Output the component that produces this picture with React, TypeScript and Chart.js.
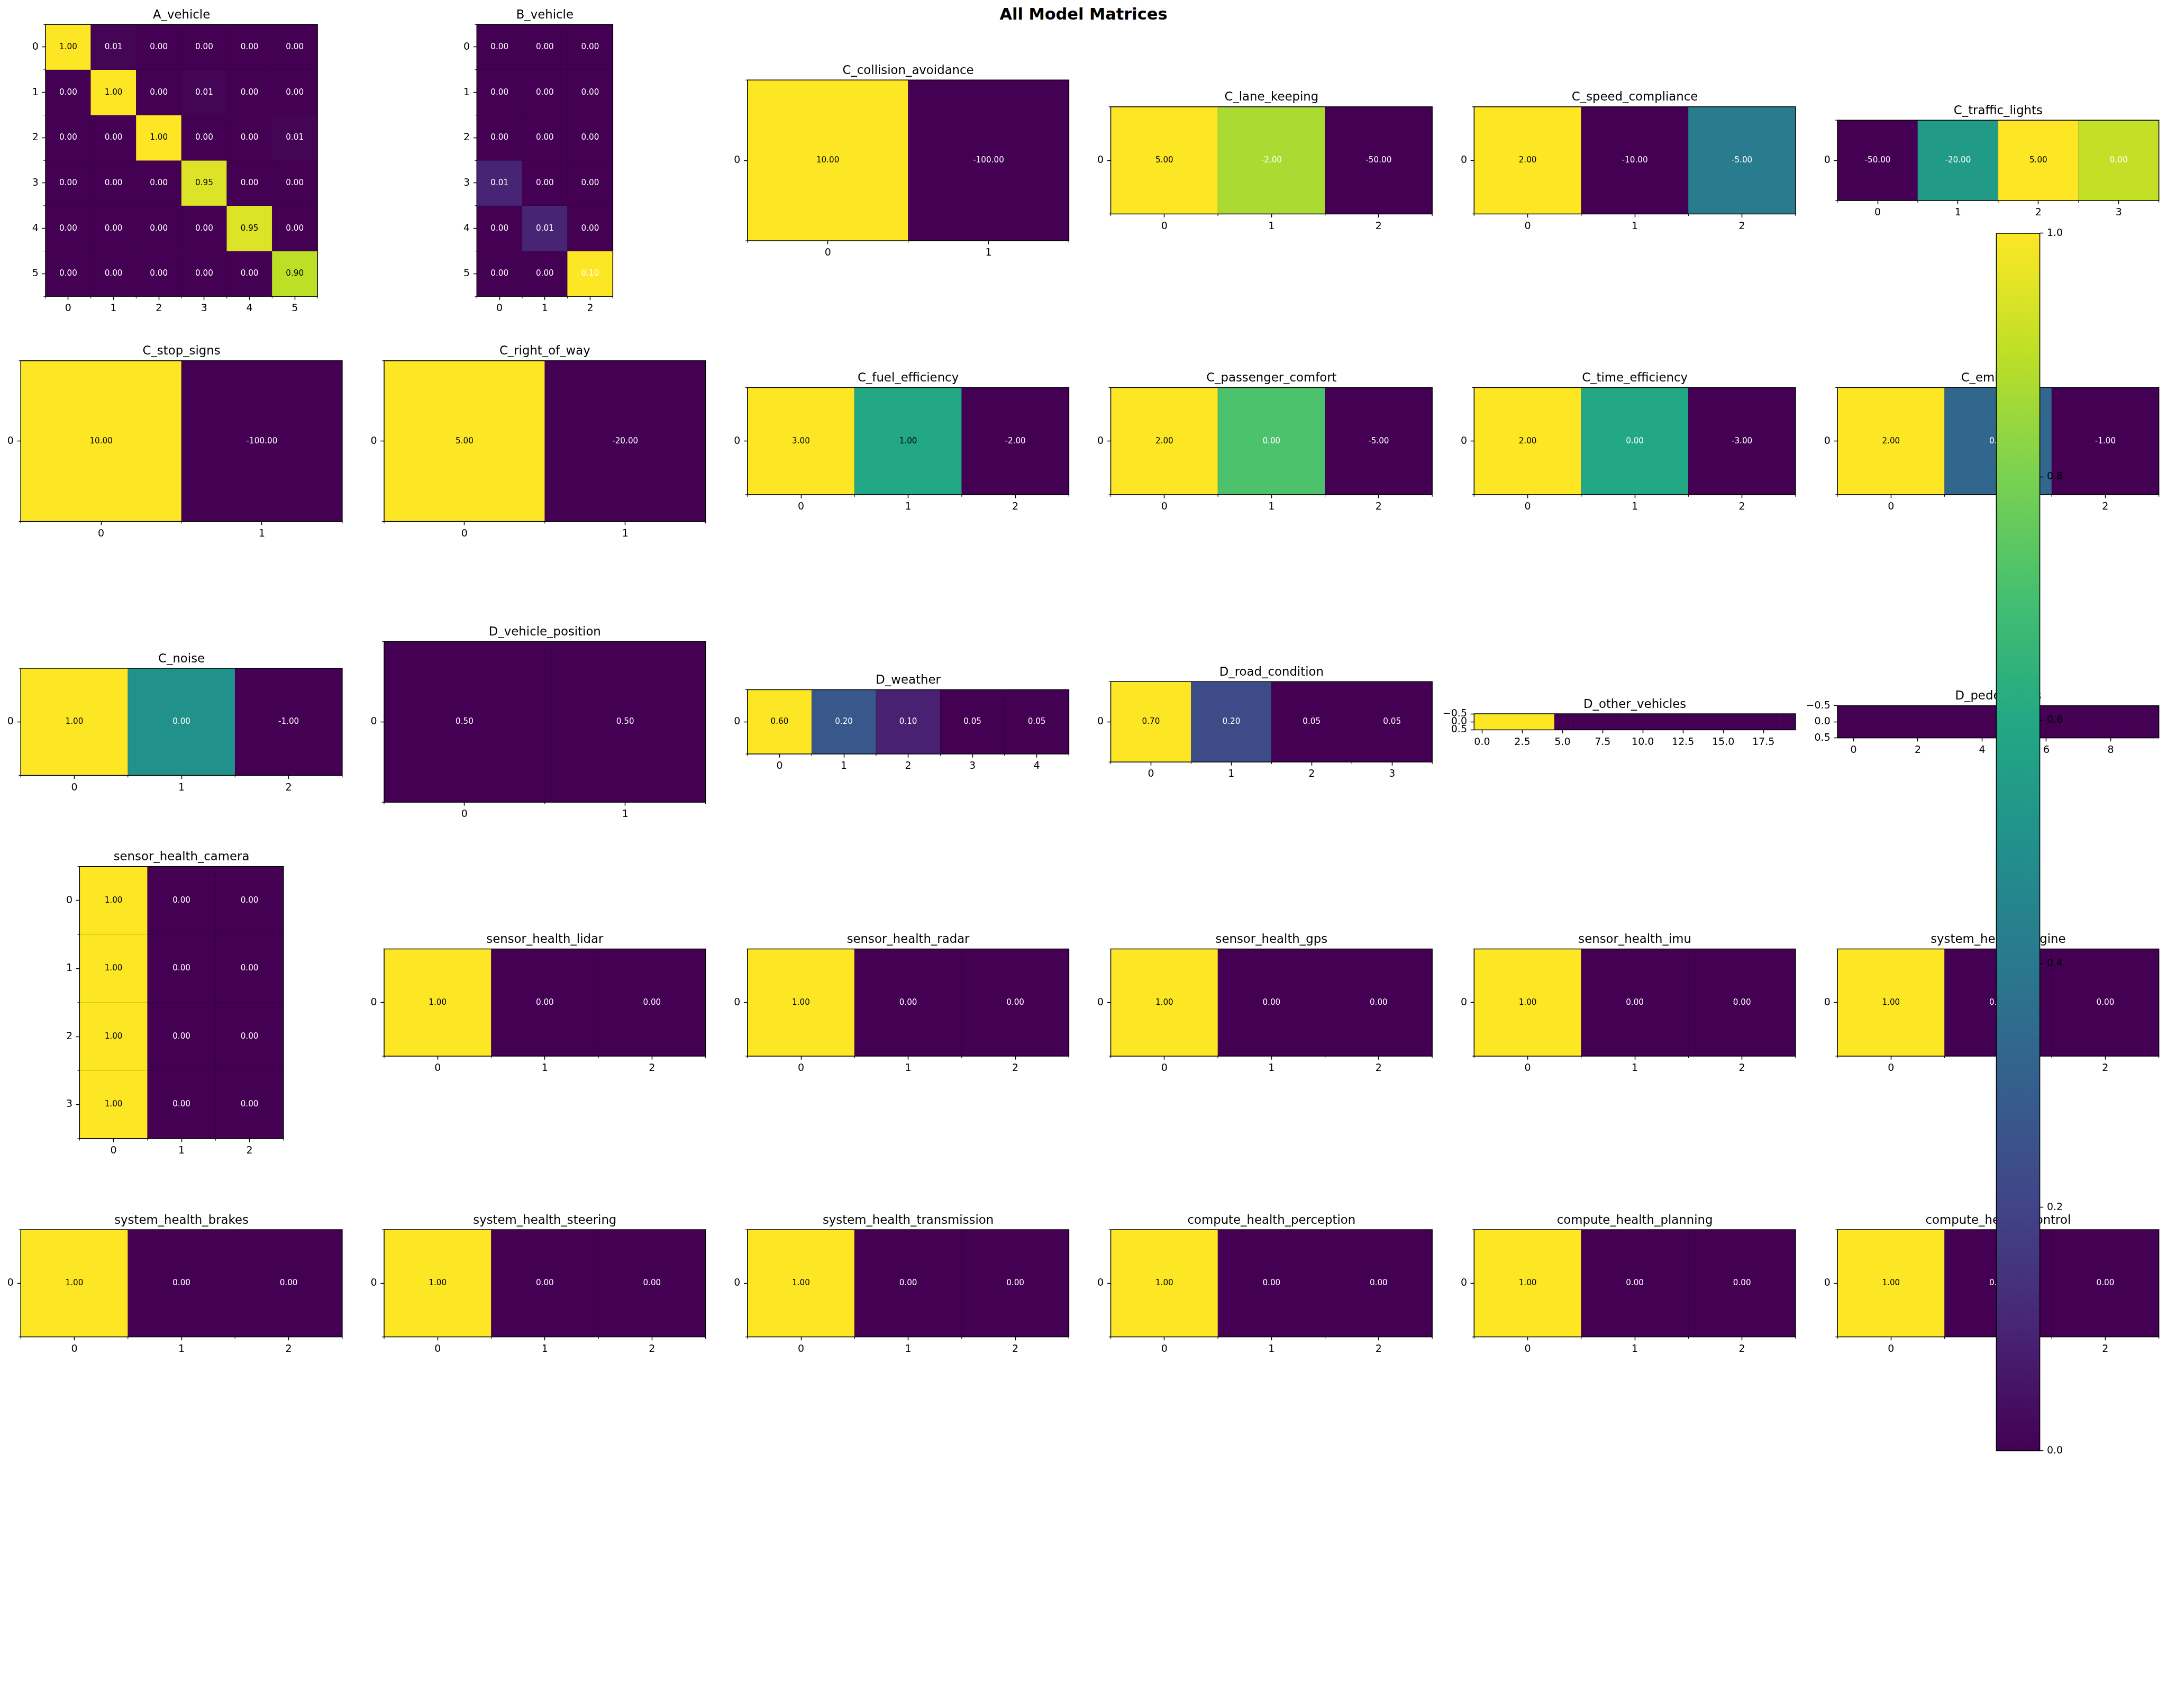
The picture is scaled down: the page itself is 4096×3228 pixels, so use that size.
import React, { useEffect, useRef } from "react";
import { Chart, registerables } from "chart.js";
Chart.register(...registerables);

// ---------- scale & styling ----------
const S = 0.913;
const PT = (150 / 72) * S; // px per point at the reference dpi, scaled
const FONT = "'DejaVu Sans', 'Liberation Sans', Arial, sans-serif";
const TICK_PX = 10 * PT;
const TITLE_PX = 12 * PT;
const CELL_PX = 8 * PT;
const SUP_PX = 16 * PT;

// grid of subplot slots in reference pixels
const SLOT_X0 = 43, SLOT_DX = 752.2, SLOT_W = 665.5;
const SLOT_Y0 = 50.5, SLOT_DY = 581.1, SLOT_H = 563;
const CB_X = 4133, CB_Y = 483, CB_W = 90, CB_H = 2520;

// ---------- data ----------
const A_vehicle = [
  [1.0, 0.01, 0.0, 0.0, 0.0, 0.0],
  [0.0, 1.0, 0.0, 0.01, 0.0, 0.0],
  [0.0, 0.0, 1.0, 0.0, 0.0, 0.01],
  [0.0, 0.0, 0.0, 0.95, 0.0, 0.0],
  [0.0, 0.0, 0.0, 0.0, 0.95, 0.0],
  [0.0, 0.0, 0.0, 0.0, 0.0, 0.9],
];
const B_vehicle = [
  [0.0, 0.0, 0.0],
  [0.0, 0.0, 0.0],
  [0.0, 0.0, 0.0],
  [0.01, 0.0, 0.0],
  [0.0, 0.01, 0.0],
  [0.0, 0.0, 0.1],
];
const C_collision_avoidance = [[10, -100]];
const C_lane_keeping = [[5, -2, -50]];
const C_speed_compliance = [[2, -10, -5]];
const C_traffic_lights = [[-50, -20, 5, 0]];
const C_stop_signs = [[10, -100]];
const C_right_of_way = [[5, -20]];
const C_fuel_efficiency = [[3, 1, -2]];
const C_passenger_comfort = [[2, 0, -5]];
const C_time_efficiency = [[2, 0, -3]];
const C_emissions = [[2, 0, -1]];
const C_noise = [[1, 0, -1]];
const D_vehicle_position = [[0.5, 0.5]];
const D_weather = [[0.6, 0.2, 0.1, 0.05, 0.05]];
const D_road_condition = [[0.7, 0.2, 0.05, 0.05]];
const D_other_vehicles = [[0.2, 0.2, 0.2, 0.2, 0.2, 0, 0, 0, 0, 0, 0, 0, 0, 0, 0, 0, 0, 0, 0, 0]];
const D_pedestrians = [[0.1, 0.1, 0.1, 0.1, 0.1, 0.1, 0.1, 0.1, 0.1, 0.1]];
const sensor_health_camera = [
  [1, 0, 0],
  [1, 0, 0],
  [1, 0, 0],
  [1, 0, 0],
];
const sensor_health_lidar = [[1, 0, 0]];
const sensor_health_radar = [[1, 0, 0]];
const sensor_health_gps = [[1, 0, 0]];
const sensor_health_imu = [[1, 0, 0]];
const system_health_engine = [[1, 0, 0]];
const system_health_brakes = [[1, 0, 0]];
const system_health_steering = [[1, 0, 0]];
const system_health_transmission = [[1, 0, 0]];
const compute_health_perception = [[1, 0, 0]];
const compute_health_planning = [[1, 0, 0]];
const compute_health_control = [[1, 0, 0]];

// tick positions that are not plain indices
const otherVehiclesXTicks = [0, 2.5, 5, 7.5, 10, 12.5, 15, 17.5];
const pedestriansXTicks = [0, 2, 4, 6, 8];
const stripYTicks = [-0.5, 0, 0.5];
const colorbarTicks = [0, 0.2, 0.4, 0.6, 0.8, 1.0];
const colorbarRange = [0, 1];

const SUPTITLE = "All Model Matrices";

const fmt1 = (v: number) => (v < 0 ? "\u2212" : "") + Math.abs(v).toFixed(1);

type Spec = {
  title: string;
  data: number[][];
  annotate: boolean;
  xTicks?: number[];
  yTicks?: number[];
  xFmt?: (v: number) => string;
  yFmt?: (v: number) => string;
};

const SPECS: Spec[] = [
  { title: "A_vehicle", data: A_vehicle, annotate: true },
  { title: "B_vehicle", data: B_vehicle, annotate: true },
  { title: "C_collision_avoidance", data: C_collision_avoidance, annotate: true },
  { title: "C_lane_keeping", data: C_lane_keeping, annotate: true },
  { title: "C_speed_compliance", data: C_speed_compliance, annotate: true },
  { title: "C_traffic_lights", data: C_traffic_lights, annotate: true },
  { title: "C_stop_signs", data: C_stop_signs, annotate: true },
  { title: "C_right_of_way", data: C_right_of_way, annotate: true },
  { title: "C_fuel_efficiency", data: C_fuel_efficiency, annotate: true },
  { title: "C_passenger_comfort", data: C_passenger_comfort, annotate: true },
  { title: "C_time_efficiency", data: C_time_efficiency, annotate: true },
  { title: "C_emissions", data: C_emissions, annotate: true },
  { title: "C_noise", data: C_noise, annotate: true },
  { title: "D_vehicle_position", data: D_vehicle_position, annotate: true },
  { title: "D_weather", data: D_weather, annotate: true },
  { title: "D_road_condition", data: D_road_condition, annotate: true },
  {
    title: "D_other_vehicles", data: D_other_vehicles, annotate: false,
    xTicks: otherVehiclesXTicks, yTicks: stripYTicks, xFmt: fmt1, yFmt: fmt1,
  },
  {
    title: "D_pedestrians", data: D_pedestrians, annotate: false,
    xTicks: pedestriansXTicks, yTicks: stripYTicks, yFmt: fmt1,
  },
  { title: "sensor_health_camera", data: sensor_health_camera, annotate: true },
  { title: "sensor_health_lidar", data: sensor_health_lidar, annotate: true },
  { title: "sensor_health_radar", data: sensor_health_radar, annotate: true },
  { title: "sensor_health_gps", data: sensor_health_gps, annotate: true },
  { title: "sensor_health_imu", data: sensor_health_imu, annotate: true },
  { title: "system_health_engine", data: system_health_engine, annotate: true },
  { title: "system_health_brakes", data: system_health_brakes, annotate: true },
  { title: "system_health_steering", data: system_health_steering, annotate: true },
  { title: "system_health_transmission", data: system_health_transmission, annotate: true },
  { title: "compute_health_perception", data: compute_health_perception, annotate: true },
  { title: "compute_health_planning", data: compute_health_planning, annotate: true },
  { title: "compute_health_control", data: compute_health_control, annotate: true },
];

// ---------- viridis ----------
const VIRIDIS = [
  "#440154", "#482475", "#414487", "#355f8d", "#2a788e", "#21918c",
  "#22a884", "#44bf70", "#7ad151", "#bddf26", "#fde725",
];
const hex = (h: string) => [1, 3, 5].map((i) => parseInt(h.slice(i, i + 2), 16));
const VIR_RGB = VIRIDIS.map(hex);
function viridis(t: number) {
  const tt = Math.max(0, Math.min(1, t)) * 10;
  const i = Math.min(9, Math.floor(tt));
  const f = tt - i;
  const a = VIR_RGB[i], b = VIR_RGB[i + 1];
  const c = a.map((v, k) => Math.round(v + (b[k] - v) * f));
  return `rgb(${c[0]},${c[1]},${c[2]})`;
}

const gridOpts = () => ({
  display: true,
  drawOnChartArea: false,
  drawTicks: true,
  tickLength: 3.5 * PT,
  tickWidth: 0.8 * PT,
  tickColor: "#000",
  offset: false,
});
const tickFont = () => ({ family: FONT, size: TICK_PX });

// ---------- heatmap ----------
function Heatmap({ spec, col, row }: { spec: Spec; col: number; row: number }) {
  const ref = useRef<HTMLCanvasElement>(null);
  const nR = spec.data.length, nC = spec.data[0].length;
  const sx = (SLOT_X0 + SLOT_DX * col) * S, sy = (SLOT_Y0 + SLOT_DY * row) * S;
  const sw = SLOT_W * S, sh = SLOT_H * S;
  const cell = Math.min(sw / nC, sh / nR);
  const aw = cell * nC, ah = cell * nR;
  const ax = sx + (sw - aw) / 2, ay = sy + (sh - ah) / 2;
  const left = Math.floor(ax - 72), top = Math.floor(ay - 50);
  const padL = ax - left, padT = ay - top;
  const cw = Math.ceil(padL + aw + 26), ch = Math.ceil(padT + ah + 52);
  const padR = cw - padL - aw, padB = ch - padT - ah;

  useEffect(() => {
    const flat = spec.data.flat();
    const lo = Math.min(...flat), hi = Math.max(...flat);
    const norm = (v: number) => (hi > lo ? (v - lo) / (hi - lo) : 0);
    const xT = spec.xTicks ?? spec.data[0].map((_, i) => i);
    const yT = spec.yTicks ?? spec.data.map((_, i) => i);
    const xF = spec.xFmt ?? ((v: number) => String(v));
    const yF = spec.yFmt ?? ((v: number) => String(v));

    const datasets = spec.data.map((vals, r) => ({
      data: vals.map((v, c) => ({ x: c, y: [r - 0.5, r + 0.5] })),
      backgroundColor: vals.map((v) => viridis(norm(v))),
      borderWidth: 0,
      barPercentage: 1,
      categoryPercentage: 1,
      grouped: false,
    }));

    const decor = {
      id: "decor",
      afterDatasetsDraw(chart: any) {
        if (!spec.annotate) return;
        const { ctx, chartArea: ca } = chart;
        const xs = chart.scales.x, ys = chart.scales.y;
        ctx.save();
        ctx.strokeStyle = "rgba(0,0,0,0.18)";
        ctx.lineWidth = 0.5 * PT;
        ctx.beginPath();
        for (let c = 1; c < nC; c++) {
          const px = xs.getPixelForValue(c - 0.5);
          ctx.moveTo(px, ca.top);
          ctx.lineTo(px, ca.bottom);
        }
        for (let r = 1; r < nR; r++) {
          const py = ys.getPixelForValue(r - 0.5);
          ctx.moveTo(ca.left, py);
          ctx.lineTo(ca.right, py);
        }
        ctx.stroke();
        ctx.font = `${CELL_PX}px ${FONT}`;
        ctx.textAlign = "center";
        ctx.textBaseline = "middle";
        spec.data.forEach((vals, r) =>
          vals.forEach((v, c) => {
            ctx.fillStyle = v > 0.5 ? "#000" : "#fff";
            ctx.fillText(v.toFixed(2), xs.getPixelForValue(c), ys.getPixelForValue(r));
          })
        );
        ctx.restore();
      },
      afterDraw(chart: any) {
        const { ctx, chartArea: ca } = chart;
        const xs = chart.scales.x, ys = chart.scales.y;
        ctx.save();
        ctx.strokeStyle = "#000";
        ctx.lineWidth = 0.8 * PT;
        ctx.strokeRect(ca.left, ca.top, ca.right - ca.left, ca.bottom - ca.top);
        if (spec.annotate) {
          ctx.lineWidth = 0.6 * PT;
          ctx.beginPath();
          for (let c = 0; c <= nC; c++) {
            const px = xs.getPixelForValue(c - 0.5);
            ctx.moveTo(px, ca.bottom);
            ctx.lineTo(px, ca.bottom + 2 * PT);
          }
          for (let r = 0; r <= nR; r++) {
            const py = ys.getPixelForValue(r - 0.5);
            ctx.moveTo(ca.left, py);
            ctx.lineTo(ca.left - 2 * PT, py);
          }
          ctx.stroke();
        }
        ctx.fillStyle = "#000";
        ctx.font = `${TITLE_PX}px ${FONT}`;
        ctx.textAlign = "center";
        ctx.textBaseline = "alphabetic";
        ctx.fillText(spec.title, (ca.left + ca.right) / 2, ca.top - 6 * PT);
        ctx.restore();
      },
    };

    const chart = new Chart(ref.current as HTMLCanvasElement, {
      type: "bar",
      data: { datasets } as any,
      options: {
        animation: false,
        responsive: false,
        maintainAspectRatio: false,
        devicePixelRatio: 1,
        events: [],
        layout: { padding: { left: 0, top: padT, right: padR, bottom: 0 } },
        plugins: { legend: { display: false }, tooltip: { enabled: false }, title: { display: false } },
        scales: {
          x: {
            type: "linear",
            min: -0.5,
            max: nC - 0.5,
            bounds: "data",
            offset: false,
            afterBuildTicks: (s: any) => { s.ticks = xT.map((v) => ({ value: v })); },
            afterFit: (s: any) => { s.height = padB; },
            ticks: {
              callback: (v: any) => xF(Number(v)),
              font: tickFont(),
              color: "#000",
              padding: 3.5 * PT - 1.5,
              autoSkip: false,
              maxRotation: 0,
              minRotation: 0,
            },
            grid: gridOpts(),
            border: { display: false },
          },
          y: {
            type: "linear",
            reverse: true,
            min: -0.5,
            max: nR - 0.5,
            bounds: "data",
            afterBuildTicks: (s: any) => { s.ticks = yT.map((v) => ({ value: v })); },
            afterFit: (s: any) => { s.width = padL; },
            ticks: {
              callback: (v: any) => yF(Number(v)),
              font: tickFont(),
              color: "#000",
              padding: 3.5 * PT,
              autoSkip: false,
            },
            grid: gridOpts(),
            border: { display: false },
          },
        } as any,
      },
      plugins: [decor],
    });
    return () => chart.destroy();
  }, []);

  return (
    <canvas
      ref={ref}
      width={cw}
      height={ch}
      style={{ position: "absolute", left, top, width: cw, height: ch }}
    />
  );
}

// ---------- colorbar ----------
function Colorbar() {
  const ref = useRef<HTMLCanvasElement>(null);
  const bx = CB_X * S, by = CB_Y * S, bw = CB_W * S, bh = CB_H * S;
  const left = Math.floor(bx - 6), top = Math.floor(by - 24);
  const padL = bx - left, padT = by - top;
  const cw = Math.ceil(padL + bw + 90), ch = Math.ceil(padT + bh + 24);
  const padB = ch - padT - bh, axisW = cw - padL - bw;

  useEffect(() => {
    const outline = {
      id: "outline",
      afterDraw(chart: any) {
        const { ctx, chartArea: ca } = chart;
        ctx.save();
        ctx.strokeStyle = "#000";
        ctx.lineWidth = 0.8 * PT;
        ctx.strokeRect(ca.left, ca.top, ca.right - ca.left, ca.bottom - ca.top);
        ctx.restore();
      },
    };
    const chart = new Chart(ref.current as HTMLCanvasElement, {
      type: "bar",
      data: {
        labels: [""],
        datasets: [
          {
            data: [[colorbarRange[0], colorbarRange[1]]],
            backgroundColor: (c: any) => {
              const ca = c.chart.chartArea;
              if (!ca) return VIRIDIS[0];
              const g = c.chart.ctx.createLinearGradient(0, ca.bottom, 0, ca.top);
              VIRIDIS.forEach((col, i) => g.addColorStop(i / (VIRIDIS.length - 1), col));
              return g;
            },
            borderWidth: 0,
            barPercentage: 1,
            categoryPercentage: 1,
          },
        ],
      } as any,
      options: {
        animation: false,
        responsive: false,
        maintainAspectRatio: false,
        devicePixelRatio: 1,
        events: [],
        layout: { padding: { left: padL, top: padT, right: 0, bottom: padB } },
        plugins: { legend: { display: false }, tooltip: { enabled: false }, title: { display: false } },
        scales: {
          x: { display: false },
          y: {
            position: "right",
            min: colorbarRange[0],
            max: colorbarRange[1],
            bounds: "data",
            afterBuildTicks: (s: any) => { s.ticks = colorbarTicks.map((v) => ({ value: v })); },
            afterFit: (s: any) => { s.width = axisW; },
            ticks: {
              callback: (v: any) => Number(v).toFixed(1),
              font: tickFont(),
              color: "#000",
              padding: 3.5 * PT,
              autoSkip: false,
            },
            grid: gridOpts(),
            border: { display: false },
          },
        } as any,
      },
      plugins: [outline],
    });
    return () => chart.destroy();
  }, []);

  return (
    <canvas
      ref={ref}
      width={cw}
      height={ch}
      style={{ position: "absolute", left, top, width: cw, height: ch }}
    />
  );
}

export default function App() {
  return (
    <div
      style={{
        position: "fixed",
        left: 0,
        top: 0,
        width: 4096,
        height: 3228,
        background: "#fff",
        overflow: "hidden",
      }}
    >
      <div
        style={{
          position: "absolute",
          left: 0,
          top: 41 * S - 0.846 * SUP_PX,
          width: 4096,
          textAlign: "center",
          fontFamily: FONT,
          fontWeight: "bold",
          fontSize: SUP_PX,
          lineHeight: `${SUP_PX}px`,
          color: "#000",
          whiteSpace: "nowrap",
        }}
      >
        {SUPTITLE}
      </div>
      {SPECS.map((spec, i) => (
        <Heatmap key={spec.title} spec={spec} col={i % 6} row={Math.floor(i / 6)} />
      ))}
      <Colorbar />
    </div>
  );
}
